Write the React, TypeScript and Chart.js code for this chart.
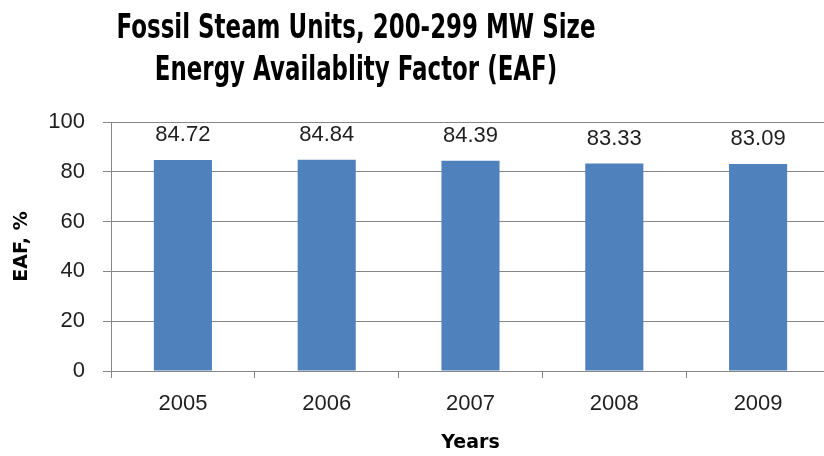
import React, { useEffect, useRef } from "react";
import { Chart, registerables } from "chart.js";

Chart.register(...registerables);

const years: string[] = ["2005", "2006", "2007", "2008", "2009"];
const eafValues: number[] = [84.72, 84.84, 84.39, 83.33, 83.09];
const titleLines: string[] = ["Fossil Steam Units, 200-299 MW Size", "Energy Availablity Factor (EAF)"];
const yAxisTitle = "EAF, %";
const xAxisTitle = "Years";
const yMin = 0;
const yMax = 100;
const yStep = 20;

const CANVAS_W = 830;
const CANVAS_H = 456;
const GRID = "#878787";
const TEXT = "#1f1f1f";
const BAR = "#4F81BD";

const titlePlugin = {
  id: "scaledTitle",
  afterDraw(chart: any) {
    const ctx = chart.ctx as CanvasRenderingContext2D;
    ctx.save();
    ctx.font = "bold 34px 'DejaVu Sans'";
    ctx.fillStyle = "#000";
    ctx.textAlign = "center";
    ctx.textBaseline = "alphabetic";
    const w0 = ctx.measureText(titleLines[0]).width;
    const sx = 479 / w0;
    const cx = 356;
    const baselines = [38, 80];
    titleLines.forEach((line, i) => {
      ctx.save();
      ctx.translate(cx, baselines[i]);
      ctx.scale(sx, 1);
      ctx.fillText(line, 0, 0);
      ctx.restore();
    });
    ctx.restore();
  },
};

const valueLabelPlugin = {
  id: "valueLabels",
  afterDatasetsDraw(chart: any) {
    const ctx = chart.ctx as CanvasRenderingContext2D;
    const meta = chart.getDatasetMeta(0);
    const data = chart.data.datasets[0].data as number[];
    ctx.save();
    ctx.font = "22px 'Liberation Sans'";
    ctx.fillStyle = TEXT;
    ctx.textAlign = "center";
    ctx.textBaseline = "alphabetic";
    meta.data.forEach((bar: any, i: number) => {
      ctx.fillText(data[i].toFixed(2), bar.x, bar.y - 19);
    });
    ctx.restore();
  },
};

export default function App() {
  const canvasRef = useRef<HTMLCanvasElement | null>(null);

  useEffect(() => {
    if (!canvasRef.current) return;
    const chart = new Chart(canvasRef.current, {
      type: "bar",
      data: {
        labels: years,
        datasets: [
          {
            data: eafValues,
            backgroundColor: BAR,
            borderWidth: 0,
            barPercentage: 0.404,
            categoryPercentage: 1,
          },
        ],
      },
      options: {
        responsive: false,
        animation: false,
        devicePixelRatio: 1,
        layout: { padding: { top: 122, right: 0, left: 0, bottom: 0 } },
        plugins: {
          legend: { display: false },
          tooltip: { enabled: false },
          title: { display: false },
        },
        scales: {
          x: {
            grid: {
              display: true,
              drawOnChartArea: false,
              drawTicks: true,
              tickLength: 7,
              color: GRID,
              offset: true,
            },
            border: { display: true, color: GRID, width: 1 },
            ticks: {
              color: TEXT,
              font: { family: "'Liberation Sans'", size: 22 },
              padding: 13,
              maxRotation: 0,
            },
            title: {
              display: true,
              text: xAxisTitle,
              color: "#000",
              font: { family: "'DejaVu Sans'", size: 19, weight: "bold" },
              padding: { top: 0, bottom: 2 },
            },
            afterFit(scale: any) {
              scale.height = 85;
            },
          },
          y: {
            min: yMin,
            max: yMax,
            grid: {
              color: GRID,
              tickLength: 8,
              lineWidth: 1,
            },
            border: { display: true, color: GRID, width: 1 },
            ticks: {
              stepSize: yStep,
              color: TEXT,
              font: { family: "'Liberation Sans'", size: 22 },
              padding: 18,
            },
            title: {
              display: true,
              text: yAxisTitle,
              color: "#000",
              font: { family: "'DejaVu Sans'", size: 19, weight: "bold" },
              padding: { top: 11, bottom: 0 },
            },
            afterFit(scale: any) {
              scale.width = 111;
            },
          },
        },
      },
      plugins: [titlePlugin, valueLabelPlugin],
    });
    return () => chart.destroy();
  }, []);

  return (
    <div
      style={{
        position: "fixed",
        left: 0,
        top: 0,
        width: 824,
        height: 456,
        overflow: "hidden",
        background: "#fff",
      }}
    >
      <canvas
        ref={canvasRef}
        width={CANVAS_W}
        height={CANVAS_H}
        style={{ display: "block", width: CANVAS_W, height: CANVAS_H }}
      />
    </div>
  );
}
